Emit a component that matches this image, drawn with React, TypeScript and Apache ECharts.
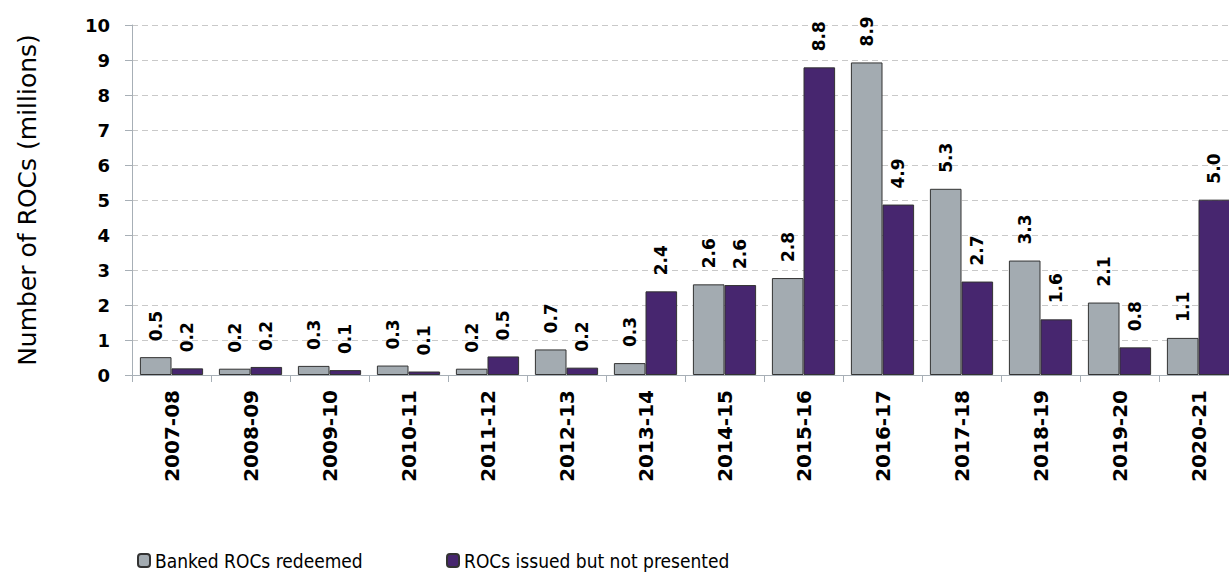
import React, { useEffect, useRef } from "react";
import * as echarts from "echarts";

const categories = [
  "2007-08", "2008-09", "2009-10", "2010-11", "2011-12", "2012-13", "2013-14",
  "2014-15", "2015-16", "2016-17", "2017-18", "2018-19", "2019-20", "2020-21",
];
const bankedRedeemed = [0.51, 0.18, 0.26, 0.27, 0.18, 0.73, 0.34, 2.59, 2.77, 8.93, 5.32, 3.27, 2.07, 1.06];
const issuedNotPresented = [0.19, 0.23, 0.14, 0.1, 0.53, 0.21, 2.39, 2.57, 8.79, 4.87, 2.67, 1.59, 0.79, 5.01];
const seriesNames = ["Banked ROCs redeemed", "ROCs issued but not presented"];
const yTicks = { min: 0, max: 10, interval: 1 };

const FONT = "'DejaVu Sans', Verdana, sans-serif";
const LEGEND_FONT = "'DejaVu Sans Condensed', 'DejaVu Sans', sans-serif";

export default function App() {
  const ref = useRef<HTMLDivElement>(null);
  useEffect(() => {
    document.body.style.margin = "0";
    document.body.style.overflow = "hidden";
    const chart = echarts.init(ref.current!, null, { renderer: "svg" });
    const label = {
      show: true,
      position: "top",
      rotate: 90,
      align: "left",
      verticalAlign: "middle",
      distance: 16,
      fontFamily: FONT,
      fontWeight: "bold",
      fontSize: 17,
      color: "#000",
      formatter: (p: any) => Number(p.value).toFixed(1),
    };
    const legendBase = {
      top: 551,
      padding: 0,
      itemWidth: 12,
      itemHeight: 13,
      textStyle: { fontFamily: LEGEND_FONT, fontSize: 19, color: "#000" },
    };
    chart.setOption({
      animation: false,
      grid: { left: 132, top: 25, width: 1106, height: 350 },
      legend: [
        { ...legendBase, data: [seriesNames[0]], left: 137 },
        { ...legendBase, data: [seriesNames[1]], left: 446 },
      ],
      xAxis: {
        type: "category",
        data: categories,
        axisLine: { lineStyle: { color: "#A7AFB6", width: 1 } },
        axisTick: { show: true, length: 7, lineStyle: { color: "#A7AFB6" } },
        axisLabel: {
          rotate: 90,
          margin: 15,
          fontFamily: FONT,
          fontWeight: "bold",
          fontSize: 20,
          color: "#000",
        },
      },
      yAxis: {
        type: "value",
        min: yTicks.min,
        max: yTicks.max,
        interval: yTicks.interval,
        name: "Number of ROCs (millions)",
        nameLocation: "middle",
        nameRotate: 90,
        nameGap: 92,
        nameTextStyle: { fontFamily: FONT, fontSize: 25, color: "#000" },
        axisLine: { show: true, lineStyle: { color: "#A7AFB6", width: 1 } },
        axisTick: { show: true, length: 7, lineStyle: { color: "#A7AFB6" } },
        axisLabel: {
          margin: 22,
          fontFamily: FONT,
          fontWeight: "bold",
          fontSize: 18,
          color: "#000",
        },
        splitLine: { lineStyle: { color: "#C9C9C9", width: 1, type: [6, 4] } },
      },
      series: [
        {
          name: seriesNames[0],
          type: "bar",
          data: bankedRedeemed,
          barGap: "0%",
          barCategoryGap: "20%",
          itemStyle: { color: "#A3ABB1", borderColor: "#333", borderWidth: 1 },
          label,
        },
        {
          name: seriesNames[1],
          type: "bar",
          data: issuedNotPresented,
          barGap: "0%",
          barCategoryGap: "20%",
          itemStyle: { color: "#47266F", borderColor: "#333", borderWidth: 1 },
          label,
        },
      ],
    });
    return () => chart.dispose();
  }, []);
  return <div ref={ref} style={{ width: 1240, height: 572 }} />;
}
